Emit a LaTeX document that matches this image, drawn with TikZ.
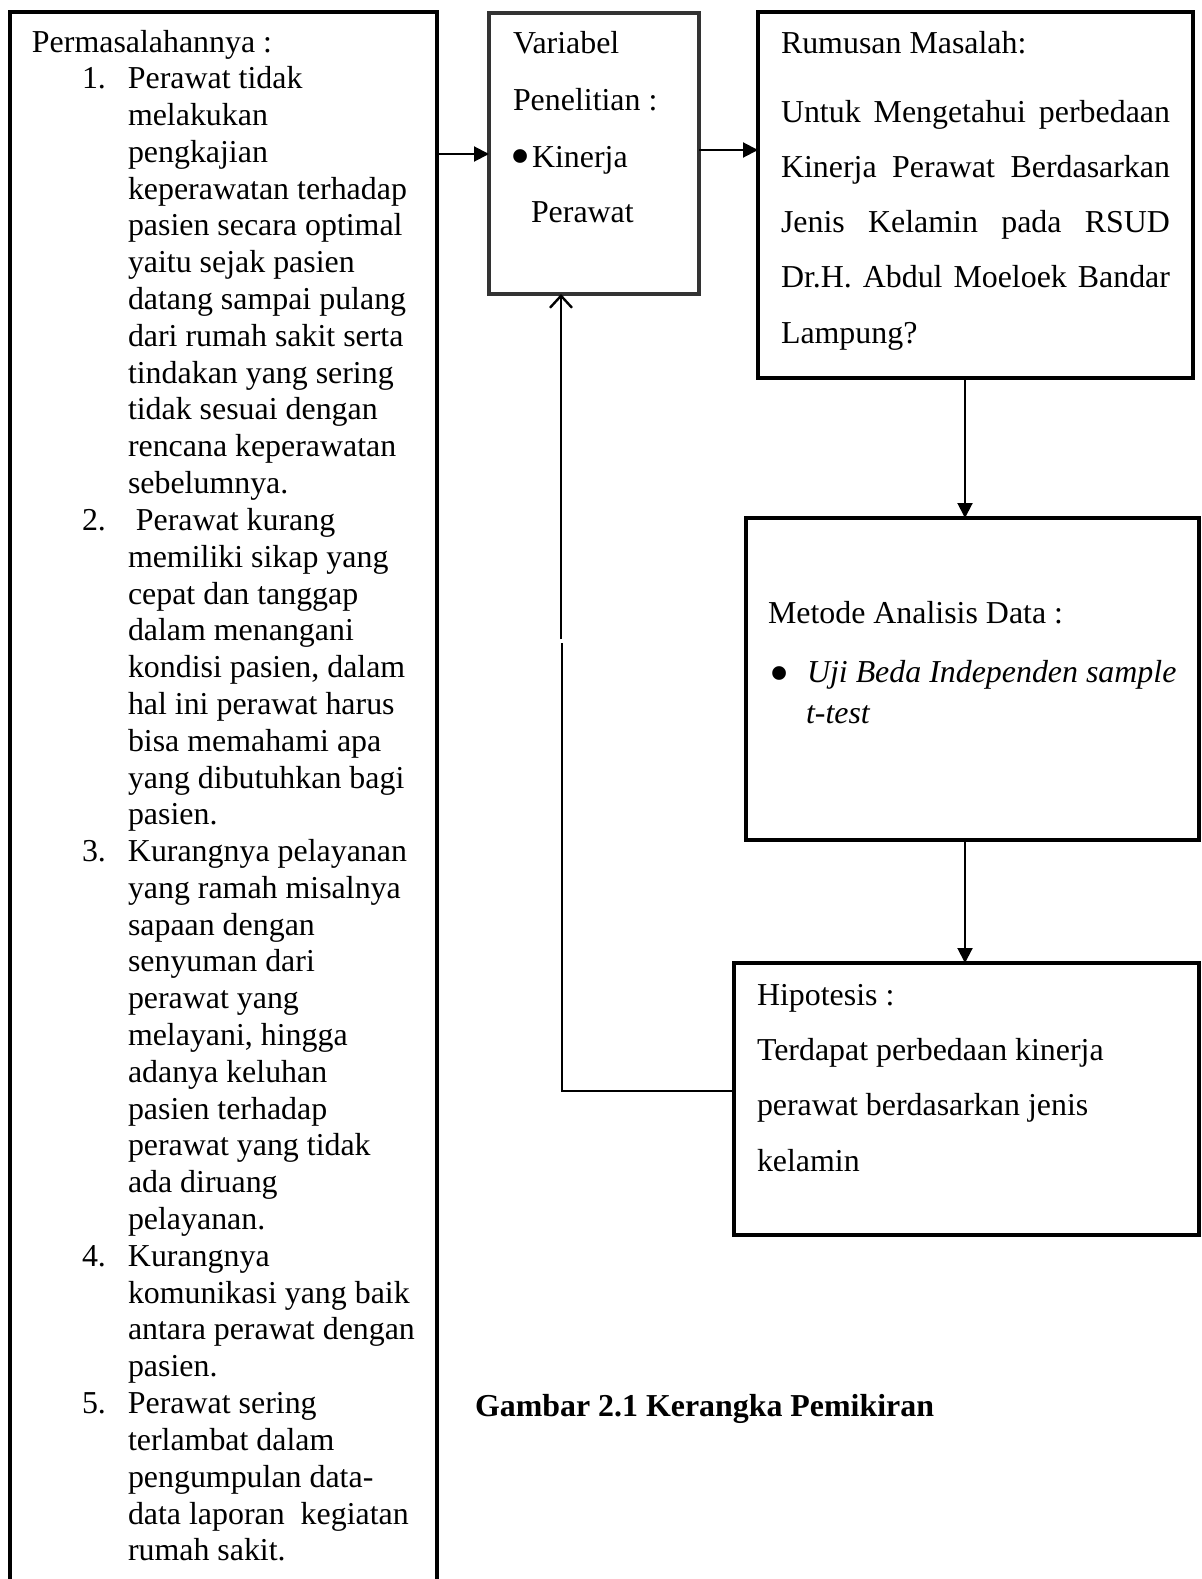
\documentclass[tikz,border=0pt]{standalone}
\usepackage{fontspec}
\setmainfont{Liberation Serif}
\usetikzlibrary{arrows.meta}
\newcommand\fs{\fontsize{15.95pt}{18.4pt}\selectfont}
\newcommand\bigbul[1]{\raisebox{#1}{\scalebox{1.8}{\textbullet}}}
\tikzset{
  box/.style={draw=black, line width=2.1pt, rectangle, anchor=north west, inner sep=0pt, outer sep=0pt},
  graybox/.style={box, draw=black!80, line width=1.9pt},
  txt/.style={anchor=base west, inner sep=0pt, outer sep=0pt, font=\fs},
  arr/.style={line width=1pt, -{Triangle[length=7.5pt,width=7.5pt]}},
  fb/.style={line width=0.8pt},
  fbarr/.style={line width=1.2pt, -{Straight Barb[length=6pt,width=11pt,line width=1.2pt]}},
}
\newcommand\tline[4]{\node[txt] (#1) at (#2,#3) {#4};}
\begin{document}
\begin{tikzpicture}[x=0.5pt,y=-0.5pt]
\useasboundingbox (0,0) rectangle (1202,1579);
\fill[white] (0,0) rectangle (1202,1579);
% boxes
\node[box, minimum width=213.5pt, minimum height=800pt] (left) at (10,12) {};
\node[graybox, minimum width=105pt, minimum height=140.5pt] (var) at (489,13) {};
\node[box, minimum width=217.5pt, minimum height=183pt] (rum) at (758,12) {};
\node[box, minimum width=226.5pt, minimum height=161pt] (met) at (746,518) {};
\node[box, minimum width=232.5pt, minimum height=136pt] (hip) at (734,963) {};
% left text
\node[txt] (ptxt) at (32,52) {\begin{tabular}[t]{@{\hspace{25pt}}p{23pt}@{}l@{}}
\multicolumn{2}{@{}l@{}}{Permasalahannya :}\\
1. & Perawat tidak\\
 & melakukan\\
 & pengkajian\\
 & keperawatan terhadap\\
 & pasien secara optimal\\
 & yaitu sejak pasien\\
 & datang sampai pulang\\
 & dari rumah sakit serta\\
 & tindakan yang sering\\
 & tidak sesuai dengan\\
 & rencana keperawatan\\
 & sebelumnya.\\
2. & \ Perawat kurang\\
 & memiliki sikap yang\\
 & cepat dan tanggap\\
 & dalam menangani\\
 & kondisi pasien, dalam\\
 & hal ini perawat harus\\
 & bisa memahami apa\\
 & yang dibutuhkan bagi\\
 & pasien.\\
3. & Kurangnya pelayanan\\
 & yang ramah misalnya\\
 & sapaan dengan\\
 & senyuman dari\\
 & perawat yang\\
 & melayani, hingga\\
 & adanya keluhan\\
 & pasien terhadap\\
 & perawat yang tidak\\
 & ada diruang\\
 & pelayanan.\\
4. & Kurangnya\\
 & komunikasi yang baik\\
 & antara perawat dengan\\
 & pasien.\\
5. & Perawat sering\\
 & terlambat dalam\\
 & pengumpulan data-\\
 & data laporan~ kegiatan\\
 & rumah sakit.
\end{tabular}};
% variabel text
\tline{v1}{513}{53}{Variabel}
\tline{v2}{513}{110}{Penelitian :}
\tline{v3}{510}{167}{\bigbul{-4.2pt}}
\tline{v4}{532}{167}{Kinerja}
\tline{v5}{531}{222}{Perawat}
% rumusan text
\tline{r1}{781}{53}{Rumusan Masalah:}
\tline{r2}{781}{122}{\makebox[194.5pt][s]{Untuk Mengetahui perbedaan}}
\tline{r3}{781}{177}{\makebox[194.5pt][s]{Kinerja Perawat Berdasarkan}}
\tline{r4}{781}{232}{\makebox[194.5pt][s]{Jenis Kelamin pada RSUD}}
\tline{r5}{781}{287}{\makebox[194.5pt][s]{Dr.H. Abdul Moeloek Bandar}}
\tline{r6}{781}{343}{Lampung?}
% metode text
\tline{m1}{768}{623}{Metode Analisis Data :}
\tline{m2}{769}{682}{\bigbul{-5.2pt}}
\tline{m3}{807}{682}{\itshape Uji Beda Independen sample}
\tline{m4}{806}{723}{\itshape t-test}
% hipotesis text
\tline{h1}{757}{1005}{Hipotesis :}
\tline{h2}{757}{1060}{Terdapat perbedaan kinerja}
\tline{h3}{757}{1115}{perawat berdasarkan jenis}
\tline{h4}{757}{1171}{kelamin}
% caption
\tline{cap}{475}{1416}{\bfseries Gambar 2.1 Kerangka Pemikiran}
% connectors
\coordinate (ya) at (0,154);
\coordinate (yb) at (0,150);
\coordinate (xc) at (965,0);
\coordinate (xf) at (562,0);
\coordinate (yf) at (0,1091);
\coordinate (fb1) at (562,643);
\coordinate (fb2) at (561,639);
\draw[arr] (left.east |- ya) -- (var.west |- ya);
\draw[arr] (var.east |- yb) -- (rum.west |- yb);
\draw[arr] (rum.south -| xc) -- (met.north -| xc);
\draw[arr] (met.south -| xc) -- (hip.north -| xc);
\draw[fb] (hip.west |- yf) -- (xf |- yf) -- (fb1);
\draw[fbarr] (fb2) -- (var.south -| fb2);
\end{tikzpicture}
\end{document}
